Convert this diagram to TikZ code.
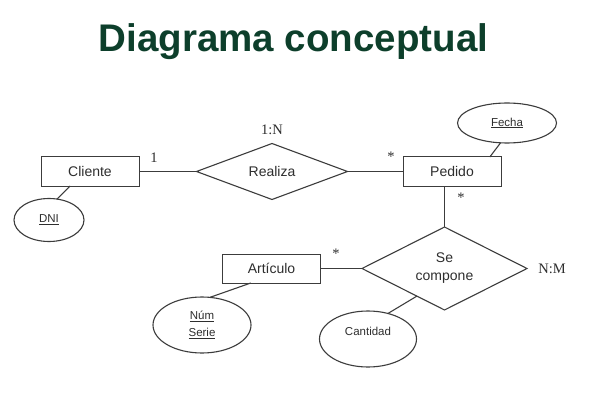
\documentclass[tikz,border=0pt]{standalone}
\usepackage{fontspec}
\setmainfont{Liberation Sans}
\newfontfamily\cardfont{Liberation Serif}
\usetikzlibrary{shapes.geometric}
\definecolor{titlegreen}{HTML}{0D3F2B}
\definecolor{linegray}{HTML}{3C3C3C}
\definecolor{textgray}{HTML}{2E2E2E}
\begin{document}
\begin{tikzpicture}[x=1pt,y=-1pt,
  entity/.style={rectangle,draw=linegray,line width=1pt,inner sep=0pt,outer sep=0pt,
    minimum width=98pt,minimum height=29pt,text=textgray,font=\fontsize{14}{16}\selectfont},
  relation/.style={diamond,draw=linegray,line width=1.1pt,inner sep=0pt,outer sep=0pt,
    aspect=2,text=textgray,font=\fontsize{14}{18}\selectfont,align=center},
  attrib/.style={ellipse,draw=linegray,line width=1.1pt,inner sep=0pt,outer sep=0pt,
    text=textgray,font=\fontsize{11.5}{17}\selectfont,align=center},
  card/.style={text=textgray,inner sep=0pt,font=\cardfont\fontsize{14.5}{16}\selectfont},
  conn/.style={draw=linegray,line width=1.1pt}]
\path[use as bounding box,fill=white] (0,0) rectangle (591,406);

\node[anchor=base,text=titlegreen,font=\bfseries\fontsize{38.5}{40}\selectfont,inner sep=0pt] (title) at (293.5,52) {Diagrama conceptual};

% entities
\node[entity] (cli) at (90,171.5) {Cliente};
\node[entity] (ped) at (452,171.5) {Pedido};
\node[entity] (art) at (271.5,268.5) {Artículo};

% relations
\node[relation,minimum width=151pt,minimum height=56pt] (rea) at (272,171.5) {Realiza};
\node[relation,minimum width=165pt,minimum height=83pt] (sec) at (444.5,268.5) {Se\\compone};

% attributes
\node[attrib,minimum width=70pt,minimum height=43pt] (dni) at (49,220) {\underline{DNI}};
\node[attrib,minimum width=99pt,minimum height=40pt] (fec) at (507,123) {\underline{Fecha}};
\node[attrib,minimum width=98pt,minimum height=56pt] (num) at (202,325) {\underline{Núm}\\\underline{Serie}};
\node[attrib,minimum width=97pt,minimum height=56pt,text depth=16pt] (can) at (368,339) {Cantidad};

% connectors
\draw[conn] (cli.east) -- (rea.west);
\draw[conn] (rea.east) -- (ped.west);
\draw[conn] (sec.north) -- (sec.north |- ped.south);
\draw[conn] (art.east) -- (sec.west);
\draw[conn] (cli.216) -- (dni.69);
\draw[conn] (ped.21) -- (fec.252);
\draw[conn] (art.215) -- (num.74);
\draw[conn] (sec.225) -- (can.52);

% cardinalities
\node[card] (c1) at (154,158) {1};
\node[card] (c1n) at (272,130) {1:N};
\node[card] (s1) at (391,157) {*};
\node[card] (s2) at (461,198) {*};
\node[card] (s3) at (336,254) {*};
\node[card] (cnm) at (552,269) {N:M};
\end{tikzpicture}
\end{document}
